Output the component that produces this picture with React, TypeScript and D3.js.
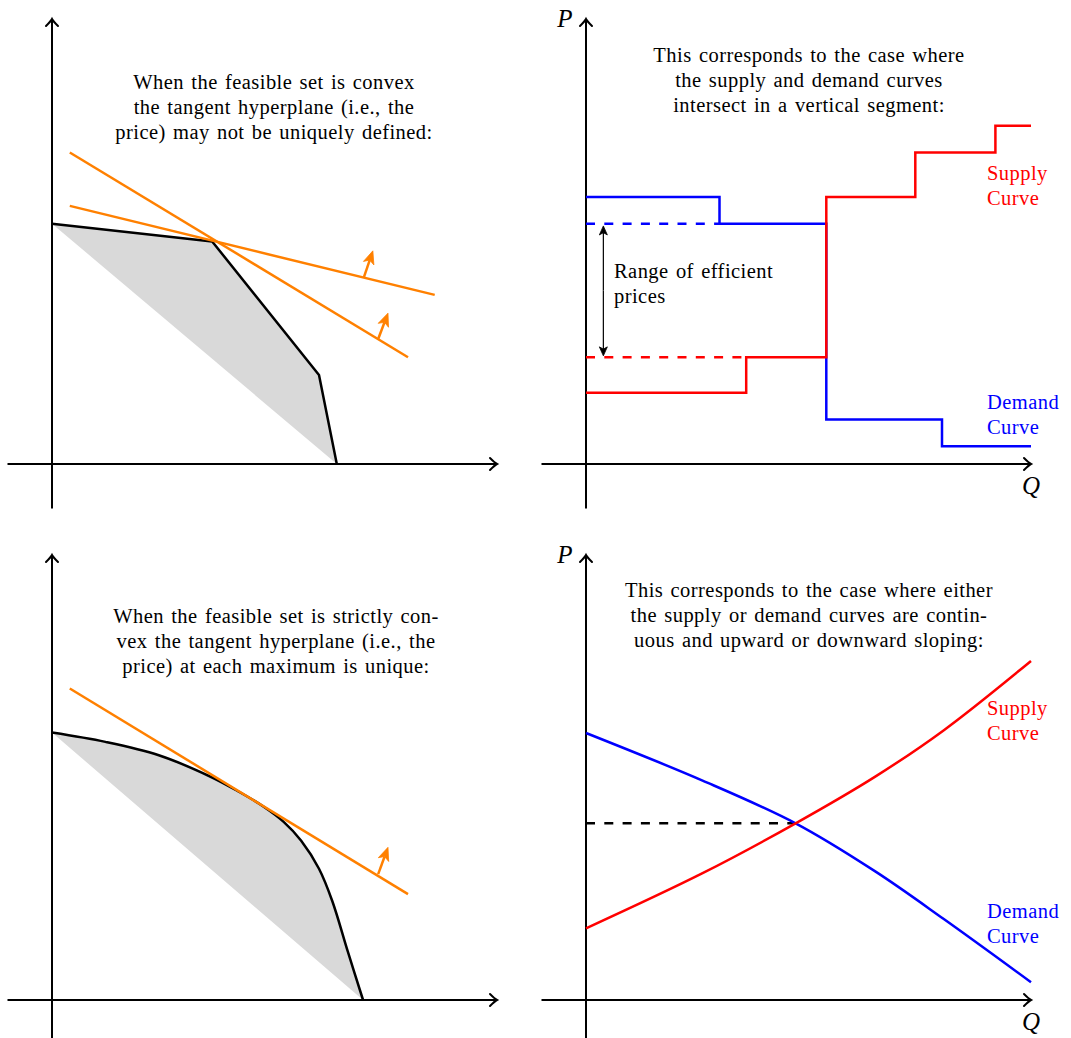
import React from 'react';
import * as d3 from 'd3';

type Pt = [number, number];

const WIDTH = 1071;
const HEIGHT = 1038;

// Axis extent in data units (both axes share it)
const AXIS_MIN = -10;
const AXIS_MAX = 100;

// Top-left: kinked (piecewise-linear) production frontier and two supporting lines
const kinkedFrontier: Pt[] = [[0, 54], [36, 50], [60, 20], [64, 0]];
const tangentSteep: Pt[] = [[4, 70], [80, 24]];
const tangentFlat: Pt[] = [[4, 58], [86, 38]];
const normalSteep: Pt[] = [[73.3, 28.1], [75.5, 33.9]];
const normalFlat: Pt[] = [[70.1, 42.0], [72.1, 47.9]];

// Bottom-left: smooth strictly convex frontier and its unique tangent
const smoothFrontier: Pt[] = [
  [0, 60.1], [12, 58.0], [24, 55.0], [36, 50.0], [42, 46.8], [47.5, 43.5], [52, 40.1],
  [56, 35.8], [60, 29.5], [63, 22.2], [66.5, 10.8], [69.9, 0],
];
const tangentUnique: Pt[] = [[4, 70], [80, 23.8]];
const normalUnique: Pt[] = [[73.3, 28.3], [75.5, 34.3]];

// Top-right: step demand and supply schedules
const demandSteps: Pt[] = [[0, 60], [30, 60], [30, 54], [54, 54], [54, 10], [80, 10], [80, 4], [100, 4]];
const supplySteps: Pt[] = [[0, 16], [36, 16], [36, 24], [54, 24], [54, 60], [74, 60], [74, 70], [92, 70], [92, 76], [100, 76]];
const demandPriceGuide: Pt[] = [[0, 54], [30, 54]];
const supplyPriceGuide: Pt[] = [[0, 24], [36, 24]];
const priceRangeQ = 3.9;
const priceRange: [number, number] = [54, 24];

// Bottom-right: continuous demand and supply curves
const demandSmooth: Pt[] = [[0, 60], [26.2, 49.3], [47.1, 39.7], [65, 28.9], [80.4, 18.2], [100, 4]];
const supplySmooth: Pt[] = [[0, 16.1], [26.2, 28.5], [47.1, 39.7], [65, 50.2], [80.5, 60.7], [100, 76.2]];
const equilibrium: Pt = [47.1, 39.7];

// Captions
const captionKinked = [
  'When the feasible set is convex',
  'the tangent hyperplane (i.e., the',
  'price) may not be uniquely defined:',
];
const captionSmooth = [
  'When the feasible set is strictly con-',
  'vex the tangent hyperplane (i.e., the',
  'price) at each maximum is unique:',
];
const captionSteps = [
  'This corresponds to the case where',
  'the supply and demand curves',
  'intersect in a vertical segment:',
];
const captionSmoothMarket = [
  'This corresponds to the case where either',
  'the supply or demand curves are contin-',
  'uous and upward or downward sloping:',
];
const rangeLabel = ['Range of efficient', 'prices'];
const supplyLabel = ['Supply', 'Curve'];
const demandLabel = ['Demand', 'Curve'];

const ORANGE = '#ff8000';
const RED = '#ff0000';
const BLUE = '#0000ff';
const FILL = '#d9d9d9';
const FONT = '"Liberation Serif", "Times New Roman", serif';
const UNIT = 4.45; // px per data unit

function makeScales(ox: number, oy: number) {
  const x = d3.scaleLinear().domain([0, 100]).range([ox, ox + 100 * UNIT]);
  const y = d3.scaleLinear().domain([0, 100]).range([oy, oy - 100 * UNIT]);
  return { x, y };
}

type Scales = ReturnType<typeof makeScales>;

function Axes({ s }: { s: Scales }) {
  const { x, y } = s;
  const x0 = x(0), y0 = y(0);
  const xt = x(AXIS_MAX), yt = y(AXIS_MAX);
  return (
    <g fill="none" stroke="#000" strokeWidth={2}>
      <line x1={x(AXIS_MIN)} y1={y0} x2={xt} y2={y0} />
      <line x1={x0} y1={y(AXIS_MIN)} x2={x0} y2={yt} />
      <path d={`M${xt - 7},${y0 - 6} Q${xt - 2},${y0 - 1} ${xt},${y0} Q${xt - 2},${y0 + 1} ${xt - 7},${y0 + 6}`} strokeLinecap="round" />
      <path d={`M${x0 - 6},${yt + 7} Q${x0 - 1},${yt + 2} ${x0},${yt} Q${x0 + 1},${yt + 2} ${x0 + 6},${yt + 7}`} strokeLinecap="round" />
    </g>
  );
}

function Arrow({ s, pts, color, headLen, headW, width }: { s: Scales; pts: Pt[]; color: string; headLen: number; headW: number; width: number }) {
  const [a, b] = pts;
  const x1 = s.x(a[0]), y1 = s.y(a[1]);
  const x2 = s.x(b[0]), y2 = s.y(b[1]);
  const len = Math.hypot(x2 - x1, y2 - y1);
  const ux = (x2 - x1) / len, uy = (y2 - y1) / len;
  const bx = x2 - ux * headLen, by = y2 - uy * headLen;
  const px = -uy, py = ux;
  const notch = headLen * 0.25;
  const head = `M${x2},${y2} L${bx + px * headW / 2},${by + py * headW / 2} L${x2 - ux * (headLen - notch)},${y2 - uy * (headLen - notch)} L${bx - px * headW / 2},${by - py * headW / 2} Z`;
  return (
    <g>
      <line x1={x1} y1={y1} x2={x2 - ux * (headLen - notch)} y2={y2 - uy * (headLen - notch)} stroke={color} strokeWidth={width} />
      <path d={head} fill={color} stroke={color} strokeWidth={0.8} strokeLinejoin="miter" />
    </g>
  );
}

function Caption({ lines, cx, y0, anchor = 'middle', color = '#000' }: { lines: string[]; cx: number; y0: number; anchor?: string; color?: string }) {
  return (
    <g fontFamily={FONT} fontSize={20.5} fill={color} textAnchor={anchor} letterSpacing={0.45} wordSpacing={1.7}>
      {lines.map((t, i) => (
        <text key={i} x={cx} y={y0 + i * 25}>{t}</text>
      ))}
    </g>
  );
}

function AxisLetters({ s }: { s: Scales }) {
  const { x, y } = s;
  return (
    <g fontFamily={FONT} fontStyle="italic" fontSize={25} fill="#000" textAnchor="middle">
      <text x={x(0) - 21} y={y(AXIS_MAX) + 8}>P</text>
      <text x={x(AXIS_MAX)} y={y(0) + 30}>Q</text>
    </g>
  );
}

export default function App() {
  const tl = makeScales(52, 464);
  const tr = makeScales(586, 464);
  const bl = makeScales(52, 1000);
  const br = makeScales(586, 1000);

  const smooth = d3.curveCatmullRom.alpha(0.5);

  const lineOf = (s: Scales, curve: d3.CurveFactory = d3.curveLinear) =>
    d3.line<Pt>().x((d) => s.x(d[0])).y((d) => s.y(d[1])).curve(curve);

  // Feasible region: frontier closed back to the start along a straight chord
  const kinkedArea = lineOf(tl)(kinkedFrontier) + 'Z';
  const smoothArea = lineOf(bl, smooth)(smoothFrontier) + 'Z';

  return (
    <svg width={WIDTH} height={HEIGHT} style={{ position: 'absolute', left: 0, top: 0, background: '#fff' }}>
      <rect width={WIDTH} height={HEIGHT} fill="#fff" />

      {/* Top-left panel */}
      <g>
        <path d={kinkedArea} fill={FILL} stroke="none" />
        <Axes s={tl} />
        <path d={lineOf(tl)(kinkedFrontier)!} fill="none" stroke="#000" strokeWidth={2.5} strokeLinejoin="round" />
        <path d={lineOf(tl)(tangentSteep)!} fill="none" stroke={ORANGE} strokeWidth={2.5} />
        <path d={lineOf(tl)(tangentFlat)!} fill="none" stroke={ORANGE} strokeWidth={2.5} />
        <Arrow s={tl} pts={normalSteep} color={ORANGE} headLen={13} headW={11} width={2.5} />
        <Arrow s={tl} pts={normalFlat} color={ORANGE} headLen={13} headW={11} width={2.5} />
        <Caption lines={captionKinked} cx={274} y0={89} />
      </g>

      {/* Top-right panel */}
      <g>
        <Axes s={tr} />
        <AxisLetters s={tr} />
        <path d={lineOf(tr)(demandPriceGuide)!} fill="none" stroke={BLUE} strokeWidth={2.5} strokeDasharray="9 9.3" />
        <path d={lineOf(tr)(supplyPriceGuide)!} fill="none" stroke={RED} strokeWidth={2.5} strokeDasharray="9 9.3" />
        <path d={lineOf(tr)(demandSteps)!} fill="none" stroke={BLUE} strokeWidth={2.5} />
        <path d={lineOf(tr)(supplySteps)!} fill="none" stroke={RED} strokeWidth={2.5} />
        <Arrow s={tr} pts={[[priceRangeQ, (priceRange[0] + priceRange[1]) / 2], [priceRangeQ, priceRange[0] - 0.5]]} color="#000" headLen={9} headW={8} width={1.2} />
        <Arrow s={tr} pts={[[priceRangeQ, (priceRange[0] + priceRange[1]) / 2], [priceRangeQ, priceRange[1] + 0.3]]} color="#000" headLen={9} headW={8} width={1.2} />
        <Caption lines={captionSteps} cx={809} y0={62} />
        <Caption lines={rangeLabel} cx={614} y0={278} anchor="start" />
        <Caption lines={supplyLabel} cx={987} y0={180} anchor="start" color={RED} />
        <Caption lines={demandLabel} cx={987} y0={409} anchor="start" color={BLUE} />
      </g>

      {/* Bottom-left panel */}
      <g>
        <path d={smoothArea} fill={FILL} stroke="none" />
        <Axes s={bl} />
        <path d={lineOf(bl, smooth)(smoothFrontier)!} fill="none" stroke="#000" strokeWidth={2.5} />
        <path d={lineOf(bl)(tangentUnique)!} fill="none" stroke={ORANGE} strokeWidth={2.5} />
        <Arrow s={bl} pts={normalUnique} color={ORANGE} headLen={13} headW={11} width={2.5} />
        <Caption lines={captionSmooth} cx={276} y0={623} />
      </g>

      {/* Bottom-right panel */}
      <g>
        <Axes s={br} />
        <AxisLetters s={br} />
        <path d={lineOf(br)([[0, equilibrium[1]], equilibrium])!} fill="none" stroke="#000" strokeWidth={2.5} strokeDasharray="9 9.3" />
        <path d={lineOf(br, smooth)(demandSmooth)!} fill="none" stroke={BLUE} strokeWidth={2.5} />
        <path d={lineOf(br, smooth)(supplySmooth)!} fill="none" stroke={RED} strokeWidth={2.5} />
        <Caption lines={captionSmoothMarket} cx={809} y0={597} />
        <Caption lines={supplyLabel} cx={987} y0={715} anchor="start" color={RED} />
        <Caption lines={demandLabel} cx={987} y0={918} anchor="start" color={BLUE} />
      </g>
    </svg>
  );
}
